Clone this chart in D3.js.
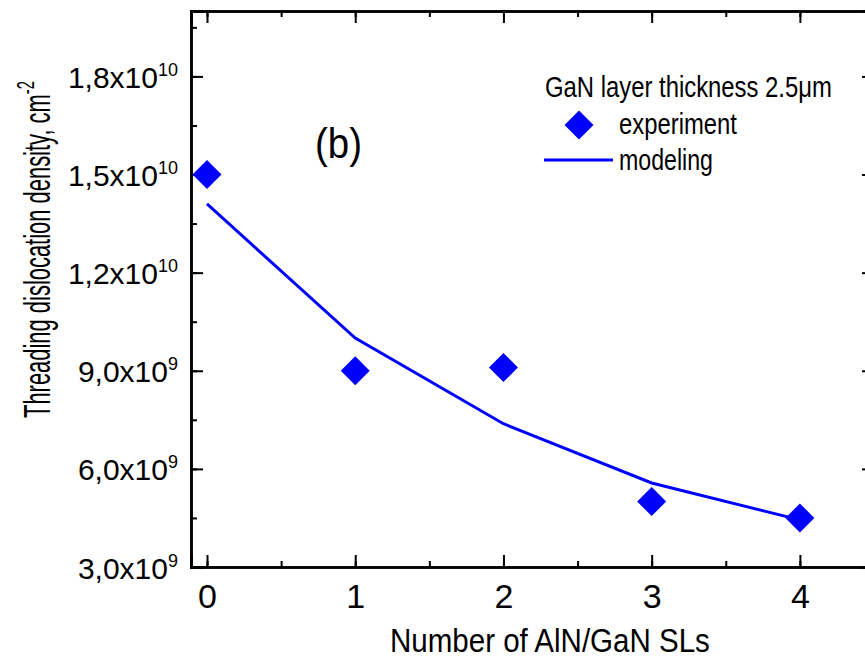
<!DOCTYPE html>
<html>
<script src="https://cdn.jsdelivr.net/npm/d3@7"></script>
<style>
  body, html { margin: 0; padding: 0; background: #fff; }
  svg { display: block; overflow: hidden; }
  .sans { font-family: "Liberation Sans", Arial, sans-serif; }
</style>
<body>
<svg width="865" height="659"></svg>
<script>

  // data
  var slCount = [0, 1, 2, 3, 4];
  var experiment = [1.5e10, 9.0e9, 9.1e9, 5.0e9, 4.5e9];
  var modeling = [1.41e10, 1.0e10, 7.38e9, 5.57e9, 4.44e9];
  var yTicks = [3e9, 6e9, 9e9, 1.2e10, 1.5e10, 1.8e10];
  var xTicks = [0, 1, 2, 3, 4];

  var svg = d3.select('svg');
  var mLeft = 191, mRight = 874, mTop = 11, mBottom = 567;
  var blue = '#0000ff';

  var x = d3.scaleLinear().domain([-0.108, 4.5]).range([mLeft, mRight]);
  var y = d3.scaleLinear().domain([3e9, 2.0e10]).range([mBottom, mTop]);

  var yMinor = d3.range(3e9, 2.0e10 + 1, 1.5e9);
  var xMinor = d3.range(0, 4.51, 0.5);

  function styleAxis(g) {
    g.select('.domain').attr('stroke', '#000').attr('stroke-width', 2.5);
    g.selectAll('.tick line').attr('stroke', '#000').attr('stroke-width', 2);
  }

  // condensed lettering: draw the text, then squeeze it horizontally to width w
  function narrowText(parent, str, px, tx, ty, w, rot) {
    var g = parent.append('g');
    var t = g.append('text').attr('class', 'sans').attr('font-size', px).text(str);
    var s = w / t.node().getComputedTextLength();
    g.attr('transform', 'translate(' + tx + ',' + ty + ')' + (rot ? ' rotate(' + rot + ')' : '') + ' scale(' + s + ',1)');
    return t;
  }

  // minor ticks (drawn first, under the major ones)
  svg.append('g').attr('transform', 'translate(0,' + mBottom + ')')
    .call(d3.axisBottom(x).tickValues(xMinor).tickSize(-6).tickFormat(''))
    .call(styleAxis);
  svg.append('g').attr('transform', 'translate(0,' + mTop + ')')
    .call(d3.axisTop(x).tickValues(xMinor).tickSize(-6).tickFormat(''))
    .call(styleAxis);
  svg.append('g').attr('transform', 'translate(' + mLeft + ',0)')
    .call(d3.axisLeft(y).tickValues(yMinor).tickSize(-6).tickFormat(''))
    .call(styleAxis);
  svg.append('g').attr('transform', 'translate(' + mRight + ',0)')
    .call(d3.axisRight(y).tickValues(yMinor).tickSize(-6).tickFormat(''))
    .call(styleAxis);

  // major ticks
  var xAxis = svg.append('g').attr('transform', 'translate(0,' + mBottom + ')')
    .call(d3.axisBottom(x).tickValues(xTicks).tickSize(-12).tickFormat(d3.format('d')))
    .call(styleAxis);
  xAxis.selectAll('.tick text')
    .attr('class', 'sans')
    .attr('font-size', 34)
    .attr('fill', '#000')
    .attr('dy', null)
    .attr('y', 41);

  svg.append('g').attr('transform', 'translate(0,' + mTop + ')')
    .call(d3.axisTop(x).tickValues(xTicks).tickSize(-12).tickFormat(''))
    .call(styleAxis);
  svg.append('g').attr('transform', 'translate(' + mRight + ',0)')
    .call(d3.axisRight(y).tickValues(yTicks).tickSize(-12).tickFormat(''))
    .call(styleAxis);

  var yAxis = svg.append('g').attr('transform', 'translate(' + mLeft + ',0)')
    .call(d3.axisLeft(y).tickValues(yTicks).tickSize(-12).tickFormat(''))
    .call(styleAxis);

  // y tick labels like 1,8x10^10
  yAxis.selectAll('.tick').each(function (d) {
    var exp = Math.floor(Math.log10(d));
    var mant = (d / Math.pow(10, exp)).toFixed(1).replace('.', ',');
    var t = d3.select(this).select('text')
      .attr('class', 'sans')
      .attr('fill', '#000')
      .attr('x', -13)
      .attr('dy', null)
      .attr('y', 11)
      .attr('text-anchor', 'end')
      .attr('font-size', 30)
      .text(null);
    t.append('tspan').text(mant + 'x10');
    t.append('tspan').attr('font-size', 18).attr('dy', -12).text(exp);
  });

  // modeling curve
  var line = d3.line()
    .x(function (d, i) { return x(slCount[i]); })
    .y(function (d) { return y(d); });

  svg.append('path')
    .datum(modeling)
    .attr('d', line)
    .attr('fill', 'none')
    .attr('stroke', blue)
    .attr('stroke-width', 3);

  // experimental points
  var diamond = d3.symbol().type(d3.symbolSquare).size(420);
  svg.selectAll('.pt')
    .data(experiment)
    .enter()
    .append('path')
      .attr('class', 'pt')
      .attr('d', diamond)
      .attr('fill', blue)
      .attr('transform', function (d, i) {
        return 'translate(' + x(slCount[i]) + ',' + y(d) + ') rotate(45)';
      });

  // panel label
  narrowText(svg, '(b)', 42, 315, 158, 47);

  // legend
  narrowText(svg, 'GaN layer thickness 2.5\u03bcm', 30, 545, 97, 287);
  svg.append('path')
    .attr('d', diamond)
    .attr('fill', blue)
    .attr('transform', 'translate(579,125) rotate(45)');
  narrowText(svg, 'experiment', 30, 619, 134, 118);
  svg.append('line')
    .attr('x1', 544).attr('x2', 613)
    .attr('y1', 160).attr('y2', 160)
    .attr('stroke', blue).attr('stroke-width', 3);
  narrowText(svg, 'modeling', 30, 619, 170, 94);

  // axis titles
  narrowText(svg, 'Number of AlN/GaN SLs', 33, 390, 652, 320);

  var yTitle = narrowText(svg, 'Threading dislocation density, cm', 36, 50, 418, 324, -90);
  yTitle.append('tspan').attr('font-size', 24).attr('dy', -16).text('-2');

</script>
</body>
</html>
